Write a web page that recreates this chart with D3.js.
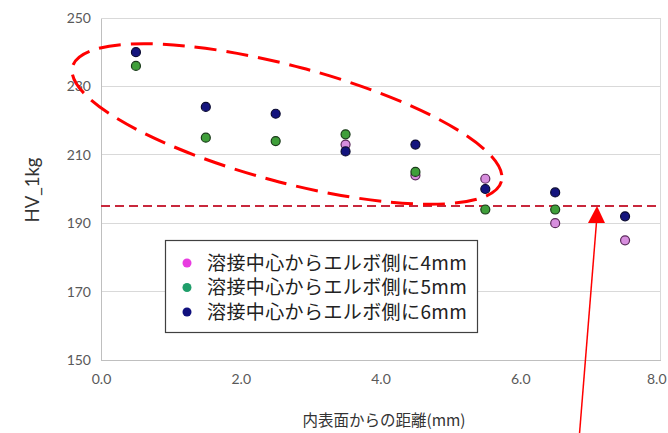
<!DOCTYPE html>
<html><head><meta charset="utf-8">
<script src="https://cdn.jsdelivr.net/npm/d3@7"></script>
<style>body{margin:0;background:#fff}svg{display:block}</style>
</head><body>
<script>
const xValues = [0.5, 1.5, 2.5, 3.5, 4.5, 5.5, 6.5, 7.5];
const series4mm = [null, null, null, 213, 204, 203, 190, 185];
const series5mm = [236, 215, 214, 216, 205, 194, 194, null];
const series6mm = [240, 224, 222, 211, 213, 200, 199, 192];
const seriesNames = ["溶接中心からエルボ側に4mm", "溶接中心からエルボ側に5mm", "溶接中心からエルボ側に6mm"];
const yTicks = [150, 170, 190, 210, 230, 250];
const xTicks = [0, 2, 4, 6, 8];
const refValue = 195;
const xTitle = "内表面からの距離(mm)";
const yTitle = "HV_1kg";

const W = 668, H = 433;
const svg = d3.select("body").append("svg").attr("width", W).attr("height", H);
const x = d3.scaleLinear().domain([0, 8]).range([101, 660]);
const y = d3.scaleLinear().domain([150, 250]).range([360, 18]);

// gridlines
svg.append("g").selectAll("line").data(yTicks.slice(1)).join("line")
  .attr("x1", x(0)).attr("x2", x(8)).attr("y1", d => y(d)).attr("y2", d => y(d))
  .attr("stroke", "#d9d9d9").attr("stroke-width", 1).attr("shape-rendering", "crispEdges");
// right border
svg.append("line").attr("x1", x(8)).attr("x2", x(8)).attr("y1", y(250)).attr("y2", y(150))
  .attr("stroke", "#d9d9d9").attr("shape-rendering", "crispEdges");

const yAxis = svg.append("g").attr("transform", `translate(${x(0)},0)`)
  .call(d3.axisLeft(y).tickValues(yTicks).tickSize(0).tickPadding(10).tickFormat(d3.format("d")));
const xAxis = svg.append("g").attr("transform", `translate(0,${y(150)})`)
  .call(d3.axisBottom(x).tickValues(xTicks).tickSize(0).tickPadding(14).tickFormat(d3.format(".1f")));
[yAxis, xAxis].forEach(a => {
  a.select(".domain").attr("stroke", "#bfbfbf").attr("shape-rendering", "crispEdges");
  a.selectAll("text").attr("fill", "#595959").style("font-family", "Lato, 'Noto Sans', sans-serif").style("font-size", "14px");
});
xAxis.selectAll(".tick").filter(d => d === 8).select("text").attr("text-anchor", "end").attr("dx", "6");

// titles
svg.append("text").attr("x", 384).attr("y", 426).attr("text-anchor", "middle")
  .style("font-family", "'Noto Sans CJK JP', sans-serif").style("font-size", "15.5px").attr("fill", "#333")
  .text(xTitle);
svg.append("text").attr("transform", `translate(39,190) rotate(-90)`).attr("text-anchor", "middle")
  .style("font-family", "Lato, 'Noto Sans', sans-serif").style("font-size", "18.5px").attr("fill", "#333")
  .text(yTitle);

// reference dashed line
svg.append("line").attr("x1", x(0)).attr("x2", x(8)).attr("y1", y(refValue)).attr("y2", y(refValue))
  .attr("stroke", "#c8283c").attr("stroke-width", 2).attr("stroke-dasharray", "9,5");

// points
const styles = [
  {fill: "#d78ede", stroke: "#5a2a5a"},
  {fill: "#3f9f3a", stroke: "#1a3a1a"},
  {fill: "#14147e", stroke: "#0a0a30"}
];
[series4mm, series5mm, series6mm].forEach((s, i) => {
  const data = xValues.map((xv, j) => ({x: xv, v: s[j]})).filter(d => d.v != null);
  svg.append("g").selectAll("circle").data(data).join("circle")
    .attr("cx", d => x(d.x)).attr("cy", d => y(d.v)).attr("r", 4.5)
    .attr("fill", styles[i].fill).attr("stroke", styles[i].stroke).attr("stroke-width", 1.2);
});

// red dashed ellipse
svg.append("ellipse").attr("cx", 287).attr("cy", 124).attr("rx", 222).attr("ry", 58)
  .attr("transform", "rotate(15,287,124)")
  .attr("fill", "none").attr("stroke", "#ff0000").attr("stroke-width", 3).attr("stroke-dasharray", "22,10");

// legend
const lg = svg.append("g");
lg.append("rect").attr("x", 165.5).attr("y", 240.5).attr("width", 312).attr("height", 92)
  .attr("fill", "#fff").attr("stroke", "#404040").attr("stroke-width", 1.2);
const legendColors = ["#e83ce0", "#1f9e6a", "#10107e"];
seriesNames.forEach((n, i) => {
  const cy = 263 + i * 24.5;
  lg.append("circle").attr("cx", 187).attr("cy", cy).attr("r", 4.5).attr("fill", legendColors[i]);
  lg.append("text").attr("x", 207).attr("y", cy + 6.5).attr("fill", "#222")
    .style("font-family", "'Noto Sans CJK JP', sans-serif").style("font-size", "19px")
    .style("letter-spacing", "0.4px").text(n);
});

// red arrow
svg.append("line").attr("x1", 579).attr("y1", 440).attr("x2", 596.5).attr("y2", 222)
  .attr("stroke", "#ff0000").attr("stroke-width", 1.5);
svg.append("path").attr("d", "M597,206 L605,223 L588,223 Z").attr("fill", "#ff0000");
</script>
</body></html>
